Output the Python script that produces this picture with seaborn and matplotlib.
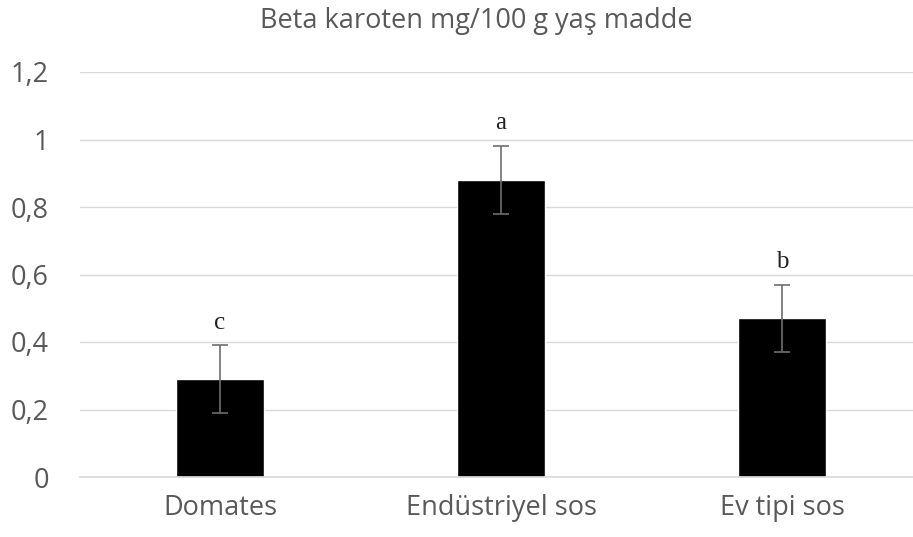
import matplotlib
matplotlib.use("Agg")
import matplotlib.pyplot as plt
import seaborn as sns
import pandas as pd
from matplotlib.ticker import FuncFormatter

kategoriler = ["Domates", "Endüstriyel sos", "Ev tipi sos"]
degerler = [0.29, 0.88, 0.47]
hatalar = [0.10, 0.10, 0.10]
harfler = ["c", "a", "b"]

veri = pd.DataFrame({"kategori": kategoriler, "deger": degerler})

sns.set_theme(style="white")
plt.rcParams["font.family"] = ["Open Sans", "DejaVu Sans"]

fig = plt.figure(figsize=(9.13, 5.37), dpi=100)
ax = fig.add_axes([79.5 / 913, 60 / 537, 843 / 913, 405 / 537])

sns.barplot(data=veri, x="kategori", y="deger", color="black", width=0.315,
            errorbar=None, saturation=1, ax=ax)
ax.errorbar(range(len(kategoriler)), degerler, yerr=hatalar, fmt="none",
            ecolor="#6e6e6e", elinewidth=1.2, capsize=6, capthick=1.2)

for i, (d, h, harf) in enumerate(zip(degerler, hatalar, harfler)):
    ax.text(i, d + h + 0.035, harf, ha="center", va="bottom",
            family=["Liberation Serif"], fontsize=18, color="#222222")

ax.set_xlim(-0.5, 2.5)
ax.set_ylim(0, 1.2)
ax.set_yticks([0, 0.2, 0.4, 0.6, 0.8, 1.0, 1.2])
ax.yaxis.set_major_formatter(FuncFormatter(lambda v, p: f"{v:g}".replace(".", ",")))
ax.yaxis.grid(True, color="#d9d9d9", linewidth=1)
ax.set_axisbelow(True)
for s in ["top", "right", "left"]:
    ax.spines[s].set_visible(False)
ax.spines["bottom"].set_color("#d9d9d9")
ax.tick_params(axis="both", length=0, labelsize=19.5, labelcolor="#595959")
ax.tick_params(axis="y", pad=22)
ax.tick_params(axis="x", pad=12)
ax.set_xlabel("")
ax.set_ylabel("")
ax.set_title("Beta karoten mg/100 g yaş madde", fontsize=19.5, color="#595959",
             pad=32, x=(476 - 79.5) / 843)

plt.savefig("out.png", dpi=100)
